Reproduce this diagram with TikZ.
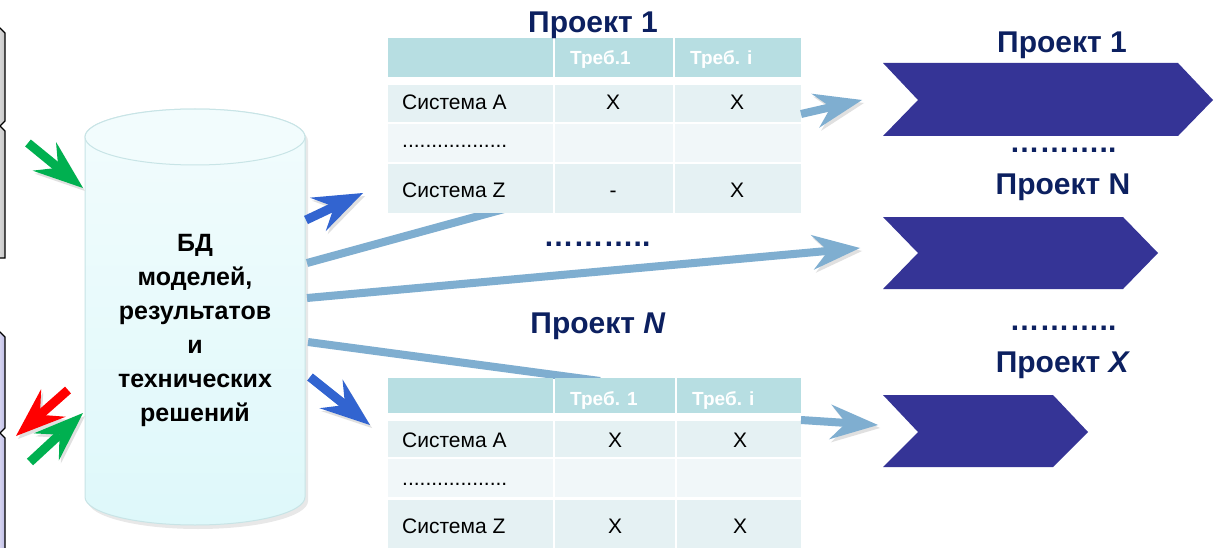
\documentclass[tikz,border=0pt]{standalone}
\usepackage{fontspec}
\setmainfont{Liberation Sans}
\usetikzlibrary{arrows.meta,shadows}
\definecolor{navy}{RGB}{12,32,96}
\definecolor{chev}{RGB}{53,52,150}
\definecolor{hdrc}{RGB}{183,222,226}
\definecolor{rowac}{RGB}{229,241,243}
\definecolor{rowdc}{RGB}{241,247,249}
\definecolor{lblue}{RGB}{127,174,208}
\definecolor{dblue}{RGB}{50,100,208}
\definecolor{grn}{RGB}{0,176,80}
\definecolor{cylb}{RGB}{200,228,230}
\definecolor{cyltop}{RGB}{242,252,253}
\definecolor{cylbot}{RGB}{222,248,250}
\definecolor{lav}{RGB}{190,188,230}
\begin{document}
\begin{tikzpicture}[x=1pt,y=-1pt,
  ttl/.style={font=\fontsize{30}{36}\selectfont\bfseries, text=navy, inner sep=0pt, anchor=base},
  cellt/.style={font=\fontsize{21}{25}\selectfont, inner sep=0pt, anchor=base west},
  cellx/.style={font=\fontsize{21}{25}\selectfont, inner sep=0pt, anchor=base},
  hdrt/.style={font=\fontsize{19}{23}\selectfont\bfseries, text=white, inner sep=0pt, anchor=base west},
  hdr/.style={fill=hdrc}, rowa/.style={fill=rowac}, rowd/.style={fill=rowdc},
  shad/.style={preaction={draw=black!12, transform canvas={xshift=2pt,yshift=-3pt}}},
  barrow/.style={shad, line width=9pt, -{Stealth[length=50pt,width=37pt,inset=18pt,line width=0pt]}},
  larrow/.style={shad, draw=lblue, line width=8pt, -{Stealth[length=48pt,width=35pt,inset=16pt,line width=0pt]}},
  lline/.style={shad, draw=lblue, line width=8pt},
  chevron/.style={fill=chev},
  leftbox/.style={draw=black, line width=1.2pt}
]
\useasboundingbox (0,0) rectangle (1220,548);
\fill[white] (0,0) rectangle (1220,548);

% left partial boxes
\draw[leftbox, left color=gray!8, right color=gray!45] (-10,28) -- (0,28) -- (5,33) -- (5,121) -- (0,126) -- (-10,126) -- cycle;
\draw[leftbox, left color=gray!8, right color=gray!45] (-10,126) -- (0,126) -- (5,131) -- (5,258) -- (-10,258) -- cycle;
\draw[leftbox, left color=white, right color=lav] (-10,332) -- (0,332) -- (5,337) -- (5,428) -- (0,433) -- (-10,433) -- cycle;
\draw[leftbox, left color=white, right color=lav] (-10,433) -- (0,433) -- (5,438) -- (5,560) -- (-10,560) -- cycle;

% cylinder
\path[drop shadow={shadow xshift=3pt, shadow yshift=-4pt, opacity=.18}, draw=cylb, line width=1pt, top color=cyltop, bottom color=cylbot]
  (85,137) -- (85,497) arc[start angle=180, end angle=0, x radius=110, y radius=28]
  -- (305,137) arc[start angle=0, end angle=-180, x radius=110, y radius=28] -- cycle;
\draw[cylb, line width=1pt, fill=cyltop] (195,137) ellipse [x radius=110, y radius=28];
\node[font=\fontsize{25}{34}\selectfont\bfseries, align=center, inner sep=0pt] (db) at (195,330)
  {БД\\моделей,\\результатов\\и\\технических\\решений};

% connector coordinates
\coordinate (cylR1) at (307,263);
\coordinate (cylR2) at (307,298);
\coordinate (cylR3) at (308,342);
\coordinate (t1in) at (548,197);
\coordinate (tNin) at (600,381);
\coordinate (t1out) at (801,114);
\coordinate (tNout) at (801,420);
\coordinate (chev1w) at (862,100);
\coordinate (chevNw) at (860,248);
\coordinate (chevXw) at (878,425);

% light blue connectors behind tables
\draw[lline] (cylR1) -- (t1in);
\draw[lline] (cylR3) -- (tNin);
\draw[larrow] (cylR2) -- (chevNw);

% table 1
\foreach \xa/\xb in {388/553,555/673,675/801} {
  \fill[hdr] (\xa,38) rectangle (\xb,77);
  \fill[rowa] (\xa,85) rectangle (\xb,122);
  \fill[rowd] (\xa,124) rectangle (\xb,162);
  \fill[rowa] (\xa,164) rectangle (\xb,213);
}
\node[ttl] (p1) at (593,33) {Проект 1};
\node[hdrt] (h11) at (570,65) {Треб.1};
\node[hdrt] (h12) at (690,65) {Треб. i};
\node[cellt] (a1) at (402,110) {Система А};
\node[cellt] (d1) at (402,148) {..................};
\node[cellt] (z1) at (402,197) {Система Z};
\node[cellx] (a1x1) at (613,110) {X};
\node[cellx] (a1x2) at (737,110) {X};
\node[cellx] (z1x1) at (613,197) {-};
\node[cellx] (z1x2) at (737,197) {X};

% table N
\foreach \xa/\xb in {388/553,555/675,677/801} {
  \fill[hdr] (\xa,378) rectangle (\xb,413);
  \fill[rowa] (\xa,421) rectangle (\xb,457);
  \fill[rowd] (\xa,459) rectangle (\xb,497);
  \fill[rowa] (\xa,500) rectangle (\xb,560);
}
\node[ttl] (pN) at (598,333) {Проект \textit{N}};
\node[hdrt] (hN1) at (570,405) {Треб. 1};
\node[hdrt] (hN2) at (692,405) {Треб. i};
\node[cellt] (aN) at (402,447) {Система А};
\node[cellt] (dN) at (402,485) {..................};
\node[cellt] (zN) at (402,533) {Система Z};
\node[cellx] (aNx1) at (615,447) {X};
\node[cellx] (aNx2) at (740,447) {X};
\node[cellx] (zNx1) at (615,533) {X};
\node[cellx] (zNx2) at (740,533) {X};

\node[ttl] (mdots) at (597,246) {………..};

% chevrons
\fill[chevron] (883,63) -- (1178,63) -- (1213,100) -- (1178,136) -- (883,136) -- (918,100) -- cycle;
\fill[chevron] (883,217) -- (1123,217) -- (1158,253) -- (1123,289) -- (883,289) -- (918,253) -- cycle;
\fill[chevron] (883,395) -- (1053,395) -- (1088,432) -- (1053,467) -- (883,467) -- (918,432) -- cycle;
\node[ttl] (q1) at (1062,53) {Проект 1};
\node[ttl] (qd1) at (1063,153) {………..};
\node[ttl] (qN) at (1063,195) {Проект N};
\node[ttl] (qd2) at (1063,330) {………..};
\node[ttl] (qX) at (1063,372) {Проект \textit{X}};

% arrows to chevrons
\draw[larrow] (t1out) -- (chev1w);
\draw[larrow] (tNout) -- (chevXw);

% blue arrows from DB
\coordinate (b1s) at (306,220); \coordinate (b1e) at (363,193);
\coordinate (b2s) at (310,377); \coordinate (b2e) at (370,425);
\draw[barrow, draw=dblue] (b1s) -- (b1e);
\draw[barrow, draw=dblue] (b2s) -- (b2e);

% green / red arrows on the left
\coordinate (g1s) at (28,143); \coordinate (g1e) at (83,188);
\coordinate (r1s) at (68,390); \coordinate (r1e) at (16,436);
\coordinate (g2s) at (30,462); \coordinate (g2e) at (83,413);
\draw[barrow, draw=grn] (g1s) -- (g1e);
\draw[barrow, draw=red] (r1s) -- (r1e);
\draw[barrow, draw=grn] (g2s) -- (g2e);
\end{tikzpicture}
\end{document}
